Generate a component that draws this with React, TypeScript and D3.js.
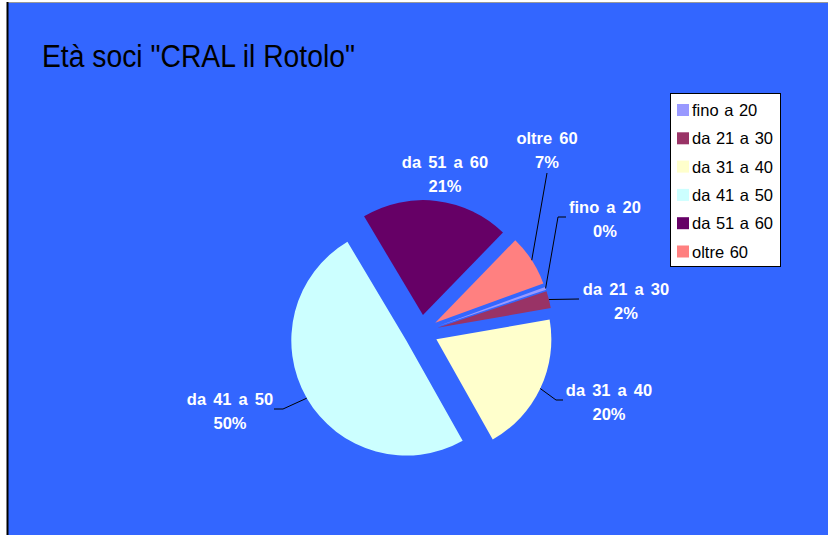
import * as d3 from "d3";

// dati: fasce di età dei soci
const categories = ["fino a 20", "da 21 a 30", "da 31 a 40", "da 41 a 50", "da 51 a 60", "oltre 60"];
const soci = [1, 6, 49, 124, 52, 18];
const colors = ["#9999FF", "#993366", "#FFFFCC", "#CCFFFF", "#660066", "#FF8080"];

const title = 'Età soci "CRAL il Rotolo"';

const width = 828,
	height = 535;
const cx = 421,
	cy = 332,
	radius = 115,
	explode = 17;

const font = "'Liberation Sans', Arial, sans-serif";

// label placement relative to the pie centre (Excel moved them around)
const labelLayout = {
	"fino a 20": { text: [184, -119], leader: [[137, -115], [145, -115]] },
	"da 21 a 30": { text: [205, -37], leader: [[158, -33]] },
	"da 31 a 40": { text: [188, 64], leader: [[135, 68], [142, 68]] },
	"da 41 a 50": { text: [-191, 73], leader: [[-138, 77], [-147, 77]] },
	"da 51 a 60": { text: [24, -164], leader: [] },
	"oltre 60": { text: [126, -188], leader: [[126, -159]] },
};

export default function App() {
	const data = categories.map((c, i) => ({ label: c, value: soci[i] }));
	const total = d3.sum(soci);
	const start = (70 * Math.PI) / 180;

	const createPie = d3
		.pie<any>()
		.value((d) => d.value)
		.sort(null)
		.startAngle(start)
		.endAngle(start + 2 * Math.PI);

	const createArc = d3.arc<any>().innerRadius(0).outerRadius(radius);
	const rimArc = d3.arc<any>().innerRadius(radius).outerRadius(radius);
	const pct = d3.format(".0%");
	const pieData = createPie(data);

	const offset = (d) => {
		const mid = (d.startAngle + d.endAngle) / 2;
		return [Math.sin(mid) * explode, -Math.cos(mid) * explode];
	};

	return (
		<svg width={width} height={height} style={{ position: "absolute", left: 0, top: 0 }}>
			<rect x={8} y={2} width={width} height={height} fill="#3366FF" />
			<line x1={8} y1={2.5} x2={width} y2={2.5} stroke="#999" strokeWidth={1} />
			<line x1={7.5} y1={2} x2={7.5} y2={height} stroke="#000" strokeWidth={2} />

			<text x={42} y={67} fontFamily={font} fontSize={31} fill="#000" textLength={313} lengthAdjust="spacingAndGlyphs">
				{title}
			</text>

			<g transform={`translate(${cx},${cy})`}>
				{pieData.map((d, i) => {
					const [ox, oy] = offset(d);
					return <path key={i} d={createArc(d)} fill={colors[i]} transform={`translate(${ox},${oy})`} />;
				})}
				{pieData.map((d, i) => {
					const lay = labelLayout[d.data.label];
					const [ox, oy] = offset(d);
					const [rx, ry] = rimArc.centroid(d);
					const pts = [[rx + ox, ry + oy], ...lay.leader];
					return (
						<g key={"l" + i}>
							{lay.leader.length > 0 && (
								<path d={d3.line()(pts as any)} fill="none" stroke="#000" strokeWidth={1} />
							)}
							<text
								x={lay.text[0]}
								y={lay.text[1]}
								textAnchor="middle"
								fontFamily={font}
								fontWeight="bold"
								fontSize={16.5}
								fill="#fff"
								style={{ wordSpacing: "2.5px" }}
							>
								<tspan x={lay.text[0]}>{d.data.label}</tspan>
								<tspan x={lay.text[0]} dy={24}>
									{pct(d.data.value / total)}
								</tspan>
							</text>
						</g>
					);
				})}
			</g>

			<g transform="translate(670,93)">
				<rect x={0.5} y={0.5} width={110} height={173} fill="#fff" stroke="#000" strokeWidth={1} />
				{categories.map((c, i) => (
					<g key={c} transform={`translate(0,${17 + i * 28.3})`}>
						<rect x={7} y={-6} width={12} height={12} fill={colors[i]} />
						<text x={22} y={6} fontFamily={font} fontSize={16.5} fill="#000" style={{ wordSpacing: "1px" }}>
							{c}
						</text>
					</g>
				))}
			</g>
		</svg>
	);
}
